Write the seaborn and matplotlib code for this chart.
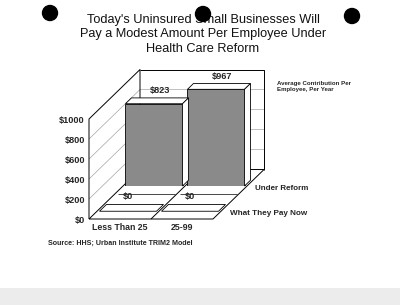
import matplotlib
matplotlib.use("Agg")
import matplotlib.pyplot as plt
import seaborn as sns
import pandas as pd
from matplotlib.patches import Polygon, Circle, Rectangle
from matplotlib.transforms import IdentityTransform

title_lines = ["Today's Uninsured Small Businesses Will",
               "Pay a Modest Amount Per Employee Under",
               "Health Care Reform"]
categories = ["Less Than 25", "25-99"]
under_reform = [823, 967]
pay_now = [0, 0]
series_names = ["Under Reform", "What They Pay Now"]
y_ticks = [0, 200, 400, 600, 800, 1000]
y_tick_labels = ["$0", "$200", "$400", "$600", "$800", "$1000"]
note_lines = ["Average Contribution Per", "Employee, Per Year"]
source_text = "Source: HHS; Urban Institute TRIM2 Model"

sns.set_style("white")
plt.rcParams["font.family"] = ["Liberation Sans", "DejaVu Sans"]

W, H = 400, 305
fig = plt.figure(figsize=(W / 100, H / 100), dpi=100)
fig.patch.set_facecolor("white")


def box(left, top, w, h):
    return [left / W, 1 - (top + h) / H, w / W, h / H]


# background canvas in pixel units
bg = fig.add_axes([0, 0, 1, 1], zorder=0)
bg.set_xlim(0, W)
bg.set_ylim(H, 0)
bg.axis("off")

FL, FT, FW, FH = 89, 119, 124, 100   # front plane of the 3D box
REF_D = 34      # depth of the "Under Reform" row
NOW_D = 8       # depth of the "What They Pay Now" row
BACK = 51       # depth of back wall
SLOPE = 0.97

# front axes: ticks and category labels
ax = fig.add_axes(box(FL, FT, FW, FH), zorder=3)
ax.set_xlim(-0.5, 1.5)
ax.set_ylim(0, 1000)
ax.patch.set_alpha(0)
for s in ax.spines.values():
    s.set_visible(False)
ax.set_yticks(y_ticks, y_tick_labels)
ax.set_xticks(range(len(categories)), categories)
ax.tick_params(axis="y", length=0, pad=3)
ax.tick_params(axis="x", length=0, pad=3)
for lab in ax.get_yticklabels():
    lab.set_fontweight("bold")
    lab.set_fontsize(6.6)
for lab in ax.get_xticklabels():
    lab.set_fontweight("bold")
    lab.set_fontsize(6.3)
ax.set_xlabel("")
ax.set_ylabel("")


def P(x, v, d):
    X, Y = ax.transData.transform((x, v))
    X += d
    Y += d * SLOPE
    return bg.transData.inverted().transform((X, Y))


def line(pts, **kw):
    xs = [p[0] for p in pts]
    ys = [p[1] for p in pts]
    bg.plot(xs, ys, solid_capstyle="butt", **kw)


k = dict(color="black", lw=0.7)
grid = dict(color="#a5a5a5", lw=0.5)
# wall gridlines
for v in y_ticks[1:-1]:
    line([P(-0.5, v, 0), P(-0.5, v, BACK), P(1.5, v, BACK)], **grid)
# floor
line([P(-0.5, 0, 0), P(1.5, 0, 0), P(1.5, 0, BACK), P(-0.5, 0, BACK), P(-0.5, 0, 0)], **k)
# left wall
line([P(-0.5, 0, 0), P(-0.5, 1000, 0), P(-0.5, 1000, BACK), P(-0.5, 0, BACK)], **k)
# back wall
line([P(-0.5, 1000, BACK), P(1.5, 1000, BACK), P(1.5, 0, BACK)], **k)
# floor divider between categories
line([P(0.5, 0, 0), P(0.5, 0, BACK)], **k)
# row edge lines in front of the bars
for i in range(len(categories)):
    line([P(i - 0.45, 0, REF_D - 8), P(i + 0.47, 0, REF_D - 8)], color="black", lw=0.5)


def faces(axx, depth, side=True, zo=3):
    for p in list(axx.patches):
        (x0, y0), (x1, y1) = axx.transData.transform(
            [(p.get_x(), p.get_y()), (p.get_x() + p.get_width(), p.get_y() + p.get_height())])
        dx, dy = depth, depth * SLOPE
        top = Polygon([(x0, y1), (x1, y1), (x1 + dx, y1 + dy), (x0 + dx, y1 + dy)],
                      closed=True, transform=IdentityTransform(), fc="white",
                      ec="black", lw=0.6, clip_on=False, zorder=zo)
        axx.add_patch(top)
        if side:
            sd = Polygon([(x1, y0), (x1, y1), (x1 + dx, y1 + dy), (x1 + dx, y0 + dy)],
                         closed=True, transform=IdentityTransform(), fc="white",
                         ec="black", lw=0.6, clip_on=False, zorder=zo)
            axx.add_patch(sd)


# "What They Pay Now" row
df_now = pd.DataFrame({"category": categories, "value": pay_now})
axn = fig.add_axes(box(FL + NOW_D, FT - NOW_D * SLOPE, FW, FH), zorder=1)
sns.barplot(data=df_now, x="category", y="value", ax=axn, color="white",
            width=0.92, edgecolor="black", linewidth=0.6, saturation=1)
axn.set_xlim(-0.5, 1.5)
axn.set_ylim(0, 1000)
axn.axis("off")
faces(axn, 7, side=False)
for i, v in enumerate(pay_now):
    axn.annotate(f"${v:,}", (i, v), xytext=(0, 15), textcoords="offset pixels",
                 ha="center", va="center", fontsize=6.6, fontweight="bold")
axn.annotate(series_names[1], (1.5, 0), xytext=(9, -2), textcoords="offset pixels",
             ha="left", va="center", fontsize=5.9, fontweight="bold", annotation_clip=False)

# "Under Reform" row
df_ref = pd.DataFrame({"category": categories, "value": under_reform})
axr = fig.add_axes(box(FL + REF_D, FT - REF_D * SLOPE, FW, FH), zorder=2)
sns.barplot(data=df_ref, x="category", y="value", ax=axr, color="#8a8a8a",
            width=0.92, edgecolor="black", linewidth=0.6, saturation=1)
axr.set_xlim(-0.5, 1.5)
axr.set_ylim(0, 1000)
axr.axis("off")
faces(axr, 6)
for i, v in enumerate(under_reform):
    axr.annotate(f"${v:,}", (i, v), xytext=(6, 13), textcoords="offset pixels",
                 ha="center", va="center", fontsize=6.6, fontweight="bold")
axr.annotate(series_names[0], (1.5, 0), xytext=(8, -2), textcoords="offset pixels",
             ha="left", va="center", fontsize=5.8, fontweight="bold", annotation_clip=False)

# title
for j, t in enumerate(title_lines):
    bg.text(203, 20 + j * 14.5, t, ha="center", va="center", fontsize=9.2, color="#111111")

# note and source
for j, t in enumerate(note_lines):
    bg.text(277, 84 + j * 6, t, ha="left", va="center", fontsize=4.4, fontweight="bold")
bg.text(48, 243, source_text, ha="left", va="center", fontsize=5.1, fontweight="bold")

# punch holes
for (cx, cy) in [(50, 13), (203, 14), (352, 16)]:
    bg.add_patch(Circle((cx, cy), 7.5, color="black", zorder=10))

# scan strip at the bottom
bg.add_patch(Rectangle((0, 288), W, 17, fc="#ececec", ec="none", zorder=0))

fig.savefig("out.png", dpi=100)
